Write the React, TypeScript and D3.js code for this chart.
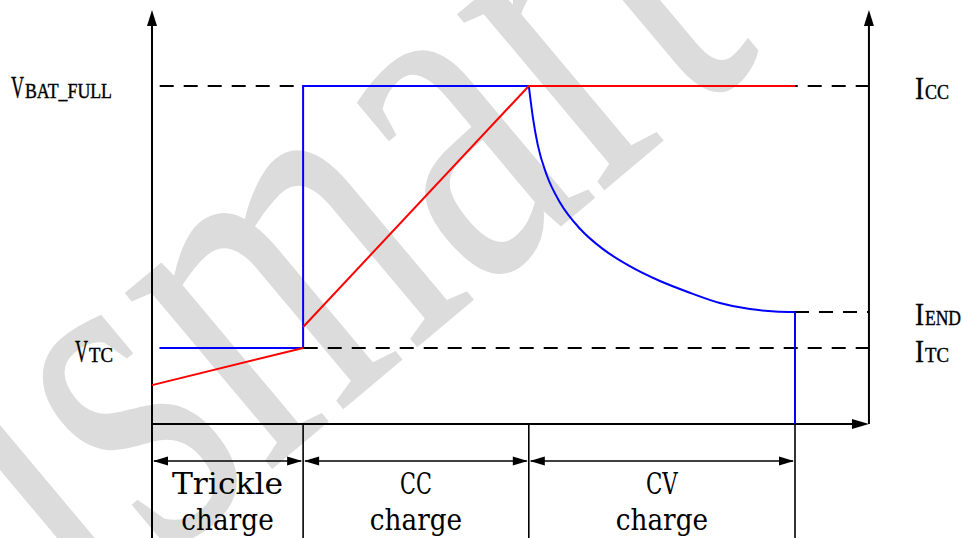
import React from 'react';
import * as d3 from 'd3';

const W = 962;
const H = 538;

// time axis: 0 = start of charge, 100 = end of CV phase
const phaseEdges = [0, 23.5, 58.6, 100];
const phaseTop = ['Trickle', 'CC', 'CV'];
const phaseBottom = ['charge', 'charge', 'charge'];

// levels in % of full scale
const levelFull = 100;
const levelEnd = 33.1;
const levelTc = 22.5;

// charge current (blue)
const currentStepX = [1.2, 23.5, 23.5, 58.6];
const currentStepY = [22.5, 22.5, 100, 100];
const cvDecayX = [58.6, 59.25, 60.0, 61.4, 63.5, 66.6, 70.1, 74.3, 79.0, 83.7, 88.3, 93.0, 96.9, 100];
const cvDecayY = [100, 90.5, 82.5, 73.6, 65.4, 57.7, 51.8, 46.7, 42.3, 38.8, 35.8, 34.0, 33.3, 33.1];
const cutoffX = [100, 100];
const cutoffY = [33.1, 0];

// battery voltage (red)
const trickleVX = [0, 23.5];
const trickleVY = [11.5, 22.5];
const ccVX = [23.5, 58.6, 100];
const ccVY = [28.7, 100, 100];

// axis extents
const xAxisEnd = 111.5;
const yAxisEnd = 122.5;
const dashStart = 1.2;

type P = [number, number];
const zip = (xs: number[], ys: number[]): P[] => xs.map((v, i) => [v, ys[i]]);

export default function App() {
  const x = d3.scaleLinear().domain([0, 100]).range([152, 795]);
  const y = d3.scaleLinear().domain([0, 100]).range([424, 86]);

  const lin = d3.line<P>().x((d) => x(d[0])).y((d) => y(d[1]));
  const smooth = d3
    .line<P>()
    .x((d) => x(d[0]))
    .y((d) => y(d[1]))
    .curve(d3.curveMonotoneX);

  const x0 = x(0);
  const xR = x(xAxisEnd);
  const y0 = y(0);
  const yTop = y(yAxisEnd);
  const arrowY = 461;
  const serif = 'Liberation Serif, Times New Roman, serif';
  const slab = 'DejaVu Serif, serif';

  const dashed = (from: number, to: number, lvl: number, key: string) => (
    <line
      key={key}
      x1={x(from)}
      x2={x(to)}
      y1={y(lvl)}
      y2={y(lvl)}
      stroke="#000"
      strokeWidth={2}
      strokeDasharray="14 10"
    />
  );

  // small-caps style label: big first letter + smaller rest
  const label = (
    big: string,
    rest: string,
    lx: number,
    ly: number,
    bigW: number,
    restW: number,
    key: string
  ) => (
    <g key={key} fontFamily={serif} fill="#000" stroke="#000" strokeWidth={0.4}>
      <text x={lx} y={ly} fontSize={32} textLength={bigW} lengthAdjust="spacingAndGlyphs">
        {big}
      </text>
      <text
        x={lx + bigW + 1}
        y={ly}
        fontSize={20}
        textLength={restW}
        lengthAdjust="spacingAndGlyphs"
      >
        {rest}
      </text>
    </g>
  );

  return (
    <div style={{ position: 'fixed', left: 0, top: 0 }}>
      <svg width={W} height={H} viewBox={`0 0 ${W} ${H}`} style={{ display: 'block', background: '#fff' }}>
        {/* watermark */}
        <text
          transform="translate(85,626) rotate(-40)"
          fontFamily="Liberation Serif, serif"
          fontSize={500}
          fill="#dcdcdc"
          textLength={888}
          lengthAdjust="spacingAndGlyphs"
        >
          ismart
        </text>

        {/* reference dashed lines */}
        {dashed(dashStart, xAxisEnd, levelFull, 'dFull')}
        {dashed(dashStart, xAxisEnd, levelTc, 'dTc')}
        {dashed(100, xAxisEnd, levelEnd, 'dEnd')}

        {/* axes */}
        <g stroke="#000" strokeWidth={2}>
          <line x1={x0} x2={x0} y1={H} y2={yTop + 12} />
          <line x1={xR} x2={xR} y1={y0} y2={yTop + 12} />
          <line x1={x0} x2={xR - 12} y1={y0} y2={y0} />
        </g>
        <g fill="#000">
          <path d={`M${x0},${yTop} l-5,16 h10 z`} />
          <path d={`M${xR},${yTop} l-5,16 h10 z`} />
          <path d={`M${xR},${y0} l-17,-5 v10 z`} />
        </g>

        {/* phase separators and spans */}
        <g stroke="#000" strokeWidth={1.6}>
          {phaseEdges.map((e, i) => (
            <line key={i} x1={x(e)} x2={x(e)} y1={y0} y2={H} />
          ))}
          {phaseTop.map((_, i) => (
            <line
              key={'s' + i}
              x1={x(phaseEdges[i]) + 2}
              x2={x(phaseEdges[i + 1]) - 2}
              y1={arrowY}
              y2={arrowY}
            />
          ))}
        </g>
        <g fill="#000">
          {phaseTop.map((_, i) => {
            const a = x(phaseEdges[i]) + 1;
            const b = x(phaseEdges[i + 1]) - 1;
            return (
              <g key={i}>
                <path d={`M${a},${arrowY} l15,-4.5 v9 z`} />
                <path d={`M${b},${arrowY} l-15,-4.5 v9 z`} />
              </g>
            );
          })}
        </g>
        <g fontFamily={slab} fontSize={29} textAnchor="middle" fill="#000">
          {phaseTop.map((t, i) => {
            const cx = (x(phaseEdges[i]) + x(phaseEdges[i + 1])) / 2;
            return (
              <g key={i}>
                <text x={cx} y={494} textLength={t.length * 15.9} lengthAdjust="spacingAndGlyphs">
                  {t}
                </text>
                <text
                  x={cx}
                  y={530}
                  textLength={phaseBottom[i].length * 15.4}
                  lengthAdjust="spacingAndGlyphs"
                >
                  {phaseBottom[i]}
                </text>
              </g>
            );
          })}
        </g>

        {/* current curve */}
        <g fill="none" stroke="#0000ff" strokeWidth={2}>
          <path d={lin(zip(currentStepX, currentStepY)) || ''} />
          <path d={smooth(zip(cvDecayX, cvDecayY)) || ''} />
          <path d={lin(zip(cutoffX, cutoffY)) || ''} />
        </g>

        {/* voltage curve */}
        <g fill="none" stroke="#ff0000" strokeWidth={2}>
          <path d={lin(zip(trickleVX, trickleVY)) || ''} />
          <path d={lin(zip(ccVX, ccVY)) || ''} />
        </g>

        {/* level labels */}
        {label('V', 'BAT_FULL', 11, y(levelFull) + 12, 13, 87, 'lFull')}
        {label('V', 'TC', 75, y(levelTc) + 14, 13, 24, 'lTc')}
        {label('I', 'CC', 915, y(levelFull) + 13, 9, 24, 'rCc')}
        {label('I', 'END', 915, y(levelEnd) + 13, 9, 36, 'rEnd')}
        {label('I', 'TC', 915, y(levelTc) + 14, 9, 24, 'rTc')}
      </svg>
    </div>
  );
}
